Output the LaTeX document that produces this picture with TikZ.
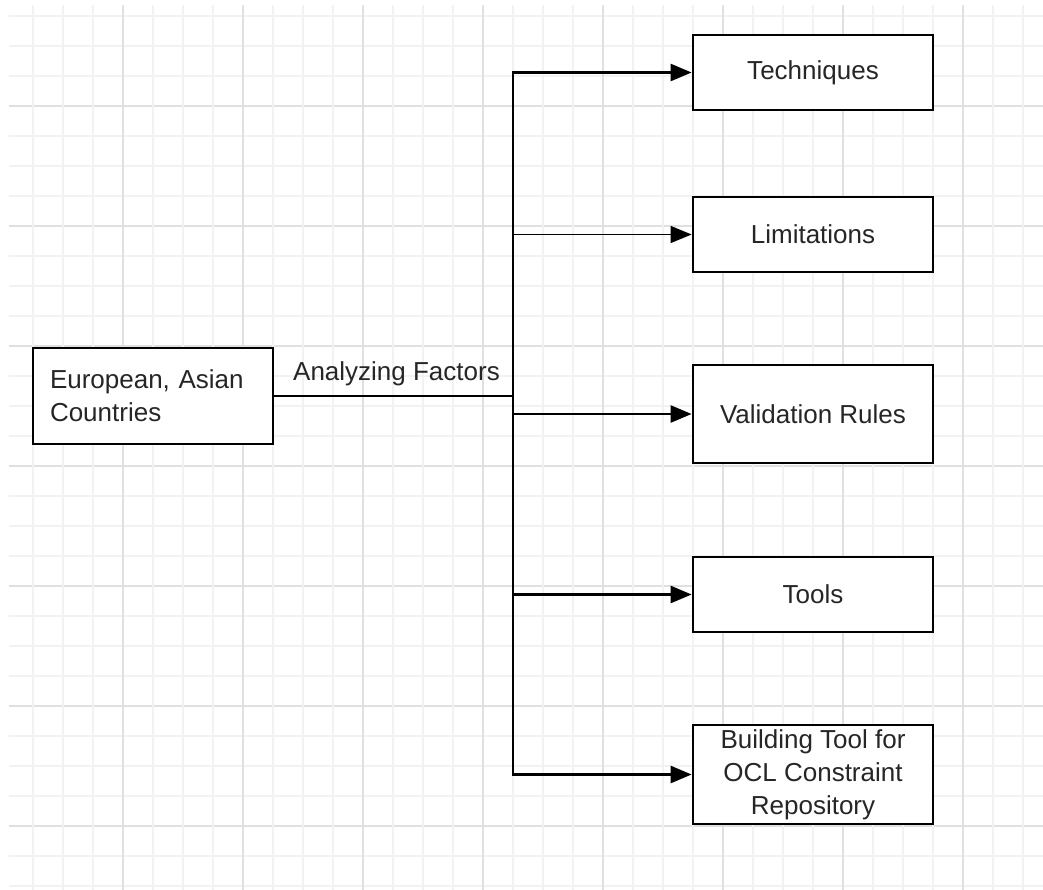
\documentclass[tikz,border=0pt]{standalone}
\usepackage{fontspec}
\setmainfont{Liberation Sans}
\usetikzlibrary{arrows.meta}
\definecolor{txt}{HTML}{262626}
\definecolor{gridminor}{HTML}{F2F2F2}
\definecolor{gridmajor}{HTML}{E0E0E0}
\tikzset{
  box/.style={draw=black, line width=2.8pt, fill=white, minimum width=240pt,
    inner sep=0pt, text=txt, font=\fontsize{26}{33}\selectfont, align=center},
  link/.style={draw=black, line width=2.6pt},
  thinlink/.style={draw=black, line width=1.3pt},
  tip/.style={-{Triangle[length=21pt,width=17pt]}},
}
\begin{document}
\frenchspacing
\begin{tikzpicture}[x=1pt,y=-1pt]
  \useasboundingbox[fill=white] (0,0) rectangle (1043,890);
  % background grid: a darker line every fourth one
  \foreach \k in {0,...,29} {
    \pgfmathtruncatemacro\maj{mod(\k,4)==3 ? 1 : 0}
    \ifnum\maj=1
      \draw[gridmajor, line width=1.1pt] (9,16+30*\k) -- (1043,16+30*\k);
    \else
      \draw[gridminor, line width=2pt] (9,16+30*\k) -- (1043,16+30*\k);
    \fi
  }
  \foreach \k in {0,...,33} {
    \pgfmathtruncatemacro\maj{mod(\k,4)==3 ? 1 : 0}
    \ifnum\maj=1
      \draw[gridmajor, line width=1.1pt] (33+30*\k,5) -- (33+30*\k,890);
    \else
      \draw[gridminor, line width=2pt] (33+30*\k,5) -- (33+30*\k,890);
    \fi
  }

  % source box
  \node[box, minimum width=0pt, text width=206pt, inner xsep=17pt, align=left,
        minimum height=96pt] (eu) at (153,396) {European, Asian\\Countries};

  % target boxes
  \node[box, minimum height=75pt] (tech)  at (813,72.5)  {Techniques};
  \node[box, minimum height=75pt] (lim)   at (813,234.5) {Limitations};
  \node[box, minimum height=98pt] (val)   at (813,414)   {Validation Rules};
  \node[box, minimum height=75pt] (tools) at (813,594.5) {Tools};
  \node[box, minimum height=99pt] (build) at (813,774.5)
       {Building Tool for\\OCL Constraint\\Repository};

  % hub where the trunk meets the incoming line
  \coordinate (hub) at (513,396);

  \draw[link] (eu.east) -- (hub);
  \node[text=txt, font=\fontsize{26}{30}\selectfont, anchor=base]
       (lbl) at (396.5,380) {Analyzing Factors};

  \draw[link, line cap=rect] (hub |- tech.west) -- (hub |- build.west);

  \draw[link, tip] (hub |- tech.west) -- (tech.west);
  \draw[thinlink, tip] (hub |- lim.west) -- (lim.west);
  \draw[link, tip] (hub |- val.west) -- (val.west);
  \draw[link, tip] (hub |- tools.west) -- (tools.west);
  \draw[link, tip] (hub |- build.west) -- (build.west);
\end{tikzpicture}
\end{document}
